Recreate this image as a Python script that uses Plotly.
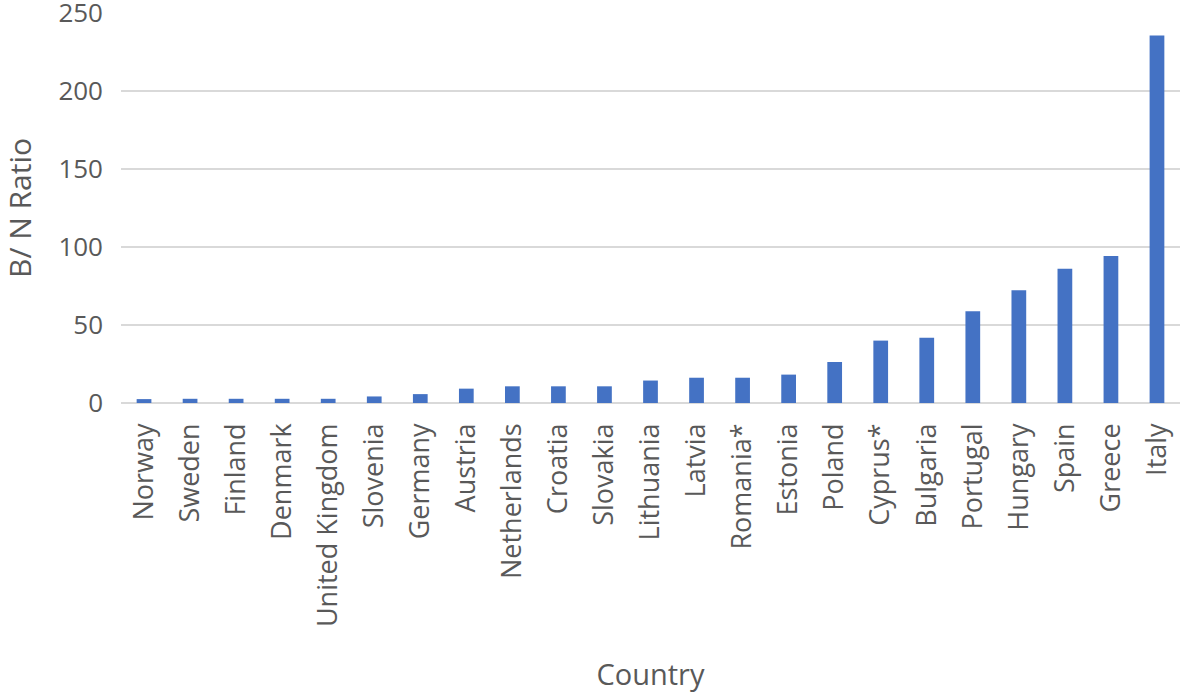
import plotly.graph_objects as go

countries = ["Norway", "Sweden", "Finland", "Denmark", "United Kingdom", "Slovenia",
             "Germany", "Austria", "Netherlands", "Croatia", "Slovakia", "Lithuania",
             "Latvia", "Romania*", "Estonia", "Poland", "Cyprus*", "Bulgaria",
             "Portugal", "Hungary", "Spain", "Greece", "Italy"]
bn_ratio = [2.5, 2.7, 2.7, 2.7, 2.7, 4.2, 5.7, 9.2, 10.7, 10.7, 10.7, 14.4,
            16.2, 16.2, 18.2, 26.3, 40.0, 41.9, 58.8, 72.2, 86.1, 94.2, 235.5]
y_ticks = [0, 50, 100, 150, 200, 250]

font_family = "Open Sans, Liberation Sans, sans-serif"
text_color = "#595959"

W, H = 1181, 693
L, R, T, B = 121, 1, 13, 290

fig = go.Figure(go.Bar(
    x=countries, y=bn_ratio,
    marker=dict(color="#4472C4", line=dict(width=0)),
))

fig.update_layout(
    width=W, height=H,
    margin=dict(l=L, r=R, t=T, b=B),
    plot_bgcolor="white", paper_bgcolor="white",
    bargap=0.68,
    showlegend=False,
    font=dict(family=font_family, color=text_color, size=27),
)
fig.update_xaxes(
    tickangle=-90, tickfont=dict(size=27, color=text_color),
    showgrid=False, showline=False, ticks="",
    ticklabelstandoff=14,
    automargin=False,
    title=dict(text="Country", font=dict(size=29, color=text_color), standoff=44),
)
fig.update_yaxes(
    range=[0, 250], tickvals=y_ticks,
    showgrid=True, gridcolor="#d9d9d9", gridwidth=1.5,
    zeroline=True, zerolinecolor="#d9d9d9", zerolinewidth=1.5,
    tickfont=dict(size=26, color=text_color),
    ticklabelstandoff=17,
    ticklabeloverflow="allow",
    automargin=False,
)
# y-axis title as a rotated annotation placed in the left margin
fig.add_annotation(
    text="B/ N Ratio", textangle=-90, showarrow=False,
    xref="paper", yref="paper",
    x=(19 - L) / (W - L - R), y=0.5, xanchor="center", yanchor="middle",
    font=dict(size=30, color=text_color),
)

fig.write_html("out.html",
               config={"displayModeBar": False},
               post_script="document.body.style.margin='0';document.body.style.overflow='hidden';")
